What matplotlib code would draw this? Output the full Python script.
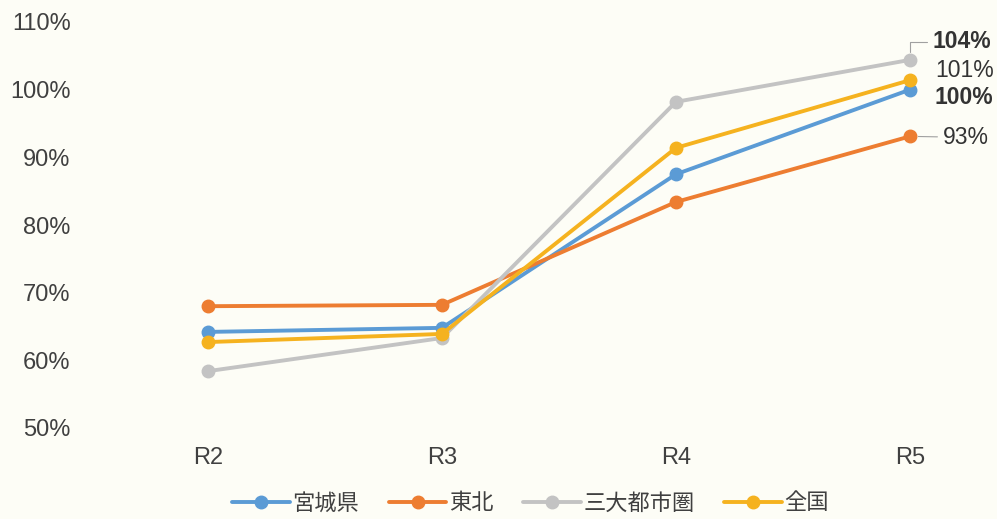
import matplotlib
matplotlib.use("Agg")
import matplotlib.pyplot as plt

plt.rcParams['font.family'] = ['Liberation Sans', 'Noto Sans CJK JP', 'DejaVu Sans']

years = ['R2', 'R3', 'R4', 'R5']
miyagi = [64.2, 64.8, 87.5, 100.0]
tohoku = [68.0, 68.2, 83.4, 93.1]
metro = [58.4, 63.3, 98.2, 104.4]
national = [62.7, 63.9, 91.4, 101.4]

series = [
    ('宮城県', miyagi, '#5b9bd5'),
    ('東北', tohoku, '#ed7d31'),
    ('三大都市圏', metro, '#c3c3c3'),
    ('全国', national, '#f5b21f'),
]

bg = '#fdfdf6'
fig = plt.figure(figsize=(9.97, 5.19), dpi=100, facecolor=bg)
ax = fig.add_axes([90 / 997, 91 / 519, 900 / 997, 406 / 519], facecolor=bg)

x = list(range(len(years)))
for name, vals, col in series:
    ax.plot(x, vals, color=col, lw=2.8, marker='o', ms=9, label=name,
            solid_capstyle='round')

# end-of-line value labels at R5 (offsets in pixels)
end_labels = [
    (metro, (23, 18), True, 'angle'),
    (national, (25, 10), False, None),
    (miyagi, (25, -8), True, None),
    (tohoku, (33, -1), False, 'straight'),
]
for vals, off, bold, leader in end_labels:
    v = vals[-1]
    kw = {}
    if leader == 'angle':
        kw['arrowprops'] = dict(arrowstyle='-', color='#a0a0a0', lw=0.8,
                                connectionstyle='angle,angleA=0,angleB=90',
                                shrinkA=2, shrinkB=6)
    elif leader == 'straight':
        kw['arrowprops'] = dict(arrowstyle='-', color='#a0a0a0', lw=0.8,
                                shrinkA=2, shrinkB=6)
    ax.annotate(f'{v:.0f}%', xy=(x[-1], v), xytext=off, textcoords='offset pixels',
                ha='left', va='center', fontsize=16.5, color='#333333',
                fontweight='bold' if bold else 'normal', **kw)

ax.set_xlim(-0.504, 3.342)
ax.set_ylim(50, 110)
ax.set_yticks(range(50, 111, 10))
ax.set_yticklabels([f'{t}%' for t in range(50, 111, 10)])
ax.set_xticks(x)
ax.set_xticklabels(years)
ax.tick_params(axis='both', length=0, labelsize=17, labelcolor='#404040')
ax.tick_params(axis='y', pad=14)
ax.tick_params(axis='x', pad=14)
for s in ax.spines.values():
    s.set_visible(False)

fig.legend(loc='center', bbox_to_anchor=(0.532, 0.029), ncol=4, frameon=False,
           fontsize=16, handlelength=2.6, handletextpad=0.1, columnspacing=1.35,
           labelcolor='#404040')

fig.savefig('out.png', dpi=100, facecolor=bg)
